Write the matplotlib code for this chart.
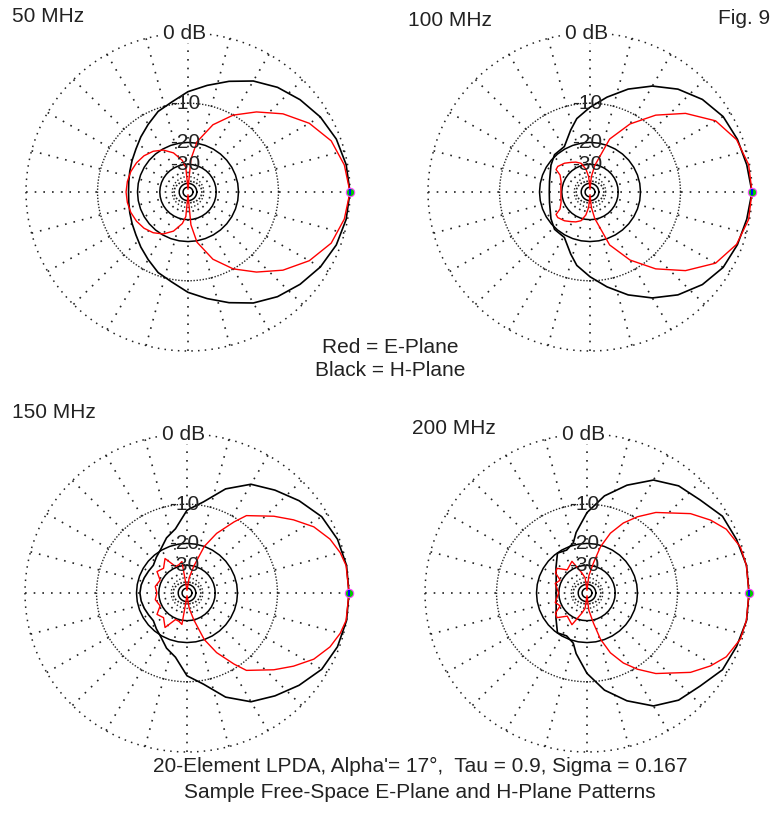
"""LPDA E-plane / H-plane polar patterns on an ARRL log scale."""

import numpy as np
import matplotlib

matplotlib.use("Agg")  # headless
import matplotlib.pyplot as plt

plt.rcParams["font.family"] = ["Liberation Sans", "DejaVu Sans"]

W, H = 777, 834  # output size, px

# --- data (angle deg from forward, relative dB) ---
freqs = ["50 MHz", "100 MHz", "150 MHz", "200 MHz"]

e50_ang = [0, 10, 20, 30, 40, 50, 60, 70, 80, 85, 90, 95, 100, 110, 120, 130, 140, 150, 160, 170, 180]
e50_db = [0, -0.35, -1.05, -2.5, -4.6, -7.2, -10, -13.7, -19.5, -27, -70, -32, -27.5, -23, -20.4,
          -18.8, -17.8, -17.2, -16.8, -16.6, -16.5]
h50_ang = [0, 10, 20, 30, 40, 50, 60, 70, 80, 90, 100, 110, 120, 130, 140, 150, 160, 170, 180]
h50_db = [0, -0.15, -0.45, -1.0, -1.75, -2.6, -3.7, -5.15, -6.6, -7.9, -9.5, -10.6, -12.2, -13.6,
          -14.9, -15.8, -16.5, -17.0, -17.2]

e100_ang = [0, 10, 20, 30, 40, 50, 60, 70, 80, 85, 90, 95, 100, 107, 115, 122, 131, 141, 146, 150,
            160, 170, 180]
e100_db = [0, -0.1, -0.65, -1.9, -4.5, -7.9, -12.1, -17.8, -30.5, -40, -70, -40, -33, -28.6, -27,
           -26, -24.5, -23.4, -23.6, -26.5, -28.5, -29.2, -29.5]
h100_ang = [0, 10, 20, 30, 40, 50, 60, 70, 80, 90, 100, 107, 119, 133, 145, 155, 165, 180]
h100_db = [0, -0.3, -0.55, -0.9, -1.7, -2.9, -4.5, -6.4, -8.6, -10.8, -13, -15.4, -19.2, -19.5,
           -21, -22.4, -23.2, -23.7]

e150_ang = [0, 10, 15, 21, 28, 35, 42, 53, 57, 64, 70, 76, 82, 90, 99, 106, 113, 122, 133, 144,
            154, 168, 180]
e150_db = [0, -0.05, -0.36, -0.96, -2.07, -3.78, -5.6, -8.5, -10.8, -15, -20, -30, -40, -70, -27.6,
           -29, -29.3, -23.4, -26.6, -25.3, -29, -27.6, -28.9]
h150_ang = [0, 10, 20, 30, 40, 50, 60, 70, 80, 90, 100, 110, 120, 130, 140, 150, 160, 170, 180]
h150_db = [0, 0, -0.2, -0.7, -1.75, -2.9, -4.05, -6.2, -9.3, -11.2, -15.3, -17.1, -19.5, -21,
           -22.4, -22.2, -21.8, -21.4, -21.2]

e200_ang = [0, 10, 17, 25, 31, 38, 50, 57, 63, 69, 74, 78, 84, 90, 97, 104, 115, 130, 140, 147,
            154, 163, 180]
e200_db = [0, -0.02, -0.17, -0.9, -2.0, -3.6, -7.1, -9.6, -12.1, -15.6, -20.5, -28, -38, -70, -40,
           -35, -26, -28.5, -24.4, -25.1, -29, -27.2, -29.9]
h200_ang = [0, 10, 20, 30, 40, 50, 60, 70, 80, 90, 100, 105, 115, 126, 140, 150, 160, 170, 180]
h200_db = [0, 0, -0.3, -0.6, -1.6, -2.2, -3.4, -5.6, -8.2, -11.7, -16.3, -19.2, -20.8, -20.1,
           -23.8, -26, -27.4, -28.2, -28.4]

e_sets = [(e50_ang, e50_db), (e100_ang, e100_db), (e150_ang, e150_db), (e200_ang, e200_db)]
h_sets = [(h50_ang, h50_db), (h100_ang, h100_db), (h150_ang, h150_db), (h200_ang, h200_db)]

ring_labels = ["0 dB", "-10", "-20", "-30"]
ring_label_db = [0, -10, -20, -30]

# plot centres in px (x, y from top)
centers = [(188, 192), (590, 192), (187, 593), (587, 593)]
freq_pos = [(12, 17), (408, 21), (12, 413), (412, 428)]
RX, RY = 162, 159  # the source image is slightly stretched sideways
EXT = 1.12

TXT = "#222222"
GRID = "#222222"
FS = 15


def arrl(db):
    """ARRL log scale: 0.89 per 2 dB."""
    return 0.89 ** (-np.asarray(db, dtype=float) / 2.0)


def mirror(ang, db):
    a = np.asarray(ang, dtype=float)
    d = np.asarray(db, dtype=float)
    return np.concatenate([a, 360 - a[::-1][1:]]), np.concatenate([d, d[::-1][1:]])


def xy(ang, db):
    a, d = mirror(ang, db)
    r = arrl(d)
    t = np.radians(a)
    return r * np.cos(t), r * np.sin(t)


def draw_grid(ax):
    t = np.linspace(0, 2 * np.pi, 361)
    # dotted rings
    ax.plot(np.cos(t), np.sin(t), color=GRID, lw=1.1, dashes=(1, 3.4))
    r10 = arrl(-10)
    ax.plot(r10 * np.cos(t), r10 * np.sin(t), color=GRID, lw=1.0, dashes=(1, 1.2))
    r40 = arrl(-40)
    ax.plot(r40 * np.cos(t), r40 * np.sin(t), color=GRID, lw=1.0, dashes=(1, 1.5))
    # solid inner rings, drawn coarse like the original
    tc = np.linspace(0, 2 * np.pi, 37)
    for db in (-20, -30, -50, -60):
        r = arrl(db)
        ax.plot(r * np.cos(tc), r * np.sin(tc), color="black", lw=1.1)
    # spokes every 15 deg, drawn from the rim inward so the dots line up
    for a in np.radians(np.arange(0, 360, 15)):
        ax.plot([np.cos(a), 0.06 * np.cos(a)], [np.sin(a), 0.06 * np.sin(a)],
                color=GRID, lw=1.2, dashes=(1, 4.2))


fig = plt.figure(figsize=(W / 100, H / 100), dpi=100)
fig.patch.set_facecolor("white")

for i, (cx, cy) in enumerate(centers):
    ax = fig.add_axes([(cx - EXT * RX) / W, 1 - (cy + EXT * RY) / H,
                       2 * EXT * RX / W, 2 * EXT * RY / H])
    ax.set_xlim(-EXT, EXT)
    ax.set_ylim(-EXT, EXT)
    ax.axis("off")
    ax.patch.set_alpha(0)

    draw_grid(ax)

    hx, hy = xy(*h_sets[i])
    ax.plot(hx, hy, color="black", lw=1.2)
    ex, ey = xy(*e_sets[i])
    ax.plot(ex, ey, color="#ff0000", lw=1.0)

    # max-gain marker on the forward axis
    ax.plot([1], [0], "o", ms=6, mfc="#00cc00", mec="#ff44ff", mew=0.8)
    ax.plot([1], [0], "|", ms=5, color="#0000ff", mew=1.5)

    for lab, db in zip(ring_labels, ring_label_db):
        kw = {}
        if db == 0:
            kw["bbox"] = dict(facecolor="white", edgecolor="none", pad=0.6)
        ax.text(-0.02, arrl(db), lab, ha="center", va="center", fontsize=FS, color=TXT, **kw)

    fx, fy = freq_pos[i]
    fig.text(fx / W, 1 - fy / H, freqs[i], ha="left", va="center", fontsize=FS, color=TXT)

fig.text(718 / W, 1 - 18 / H, "Fig. 9", ha="left", va="center", fontsize=FS, color=TXT)
fig.text(390 / W, 1 - 347 / H, "Red = E-Plane", ha="center", va="center", fontsize=FS, color=TXT)
fig.text(390 / W, 1 - 370 / H, "Black = H-Plane", ha="center", va="center", fontsize=FS, color=TXT)
fig.text(420 / W, 1 - 766 / H, "20-Element LPDA, Alpha'= 17°,  Tau = 0.9, Sigma = 0.167",
         ha="center", va="center", fontsize=FS, color=TXT)
fig.text(420 / W, 1 - 792 / H, "Sample Free-Space E-Plane and H-Plane Patterns",
         ha="center", va="center", fontsize=FS, color=TXT)

fig.savefig("out.png", dpi=100)
plt.close(fig)
